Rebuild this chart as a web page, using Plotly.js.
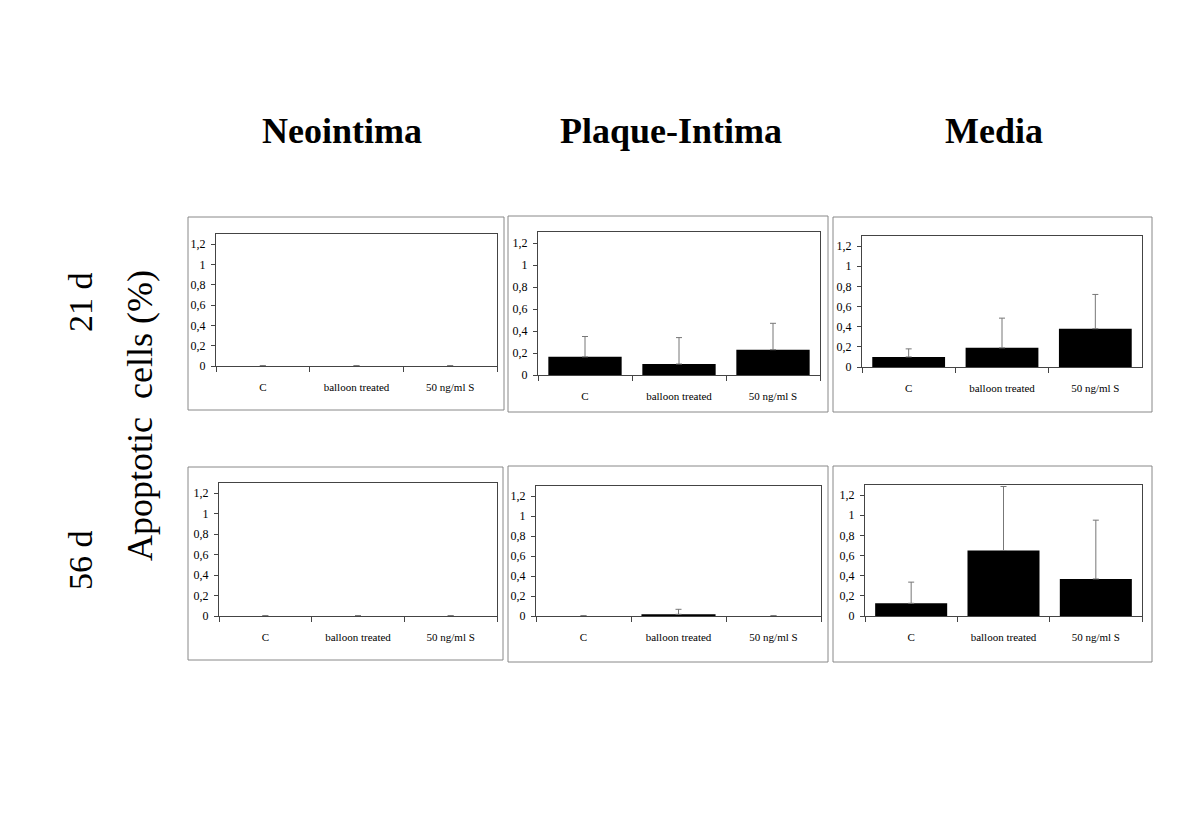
<!DOCTYPE html>
<html>
<head>
<meta charset="utf-8">
<script src="https://cdn.plot.ly/plotly-3.0.1.min.js"></script>
<style>html,body{margin:0;padding:0;background:#fff;}#chart{width:1200px;height:831px;}</style>
</head>
<body>
<div id="chart"></div>
<script>
// ---- data ----
const categories = ["C", "balloon treated", "50 ng/ml S"];
const yTickVals = [0, 0.2, 0.4, 0.6, 0.8, 1, 1.2];
const regionTitles = ["Neointima", "Plaque-Intima", "Media"];
const timeLabels = ["21 d", "56 d"];
const yLabel = "Apoptotic  cells (%)";

const neointima21 = [0, 0, 0];
const neointima21Err = [0.004, 0.004, 0.004];
const plaque21 = [0.165, 0.10, 0.23];
const plaque21Err = [0.185, 0.24, 0.24];
const media21 = [0.10, 0.19, 0.38];
const media21Err = [0.08, 0.295, 0.34];

const neointima56 = [0, 0, 0];
const neointima56Err = [0.004, 0.004, 0.004];
const plaque56 = [0, 0.017, 0];
const plaque56Err = [0.004, 0.05, 0.004];
const media56 = [0.126, 0.65, 0.368];
const media56Err = [0.21, 0.635, 0.583];

// ---- layout helpers ----
const W = 1200, H = 831;
const px = v => v / W;
const py = v => 1 - v / H;

const panels = [
  {vals: neointima21, err: neointima21Err, inner: [216, 497, 234, 366], outer: [188, 504, 217, 410]},
  {vals: plaque21, err: plaque21Err, inner: [538, 820, 232, 375], outer: [508, 828, 216, 412]},
  {vals: media21, err: media21Err, inner: [862, 1142, 236, 367], outer: [833, 1152, 217, 412]},
  {vals: neointima56, err: neointima56Err, inner: [219, 497, 483, 616], outer: [188, 503, 467, 660]},
  {vals: plaque56, err: plaque56Err, inner: [536, 821, 486, 616], outer: [508, 828, 466, 662]},
  {vals: media56, err: media56Err, inner: [865, 1142, 485, 616], outer: [833, 1152, 466, 662]}
];

const serif = "Liberation Serif, Times New Roman, serif";
const data = [];
const layout = {
  width: W, height: H,
  margin: {l: 0, r: 0, t: 0, b: 0},
  paper_bgcolor: "#fff", plot_bgcolor: "#fff",
  showlegend: false,
  separators: ", ",
  bargap: 0.22,
  font: {family: serif, color: "#000"},
  shapes: [], annotations: []
};

panels.forEach((p, i) => {
  const n = i + 1;
  const xa = n === 1 ? "x" : "x" + n;
  const ya = n === 1 ? "y" : "y" + n;
  data.push({
    type: "bar", x: categories, y: p.vals, xaxis: xa, yaxis: ya,
    marker: {color: "#000", line: {width: 0}},
    error_y: {type: "data", array: p.err, symmetric: false, arrayminus: [0, 0, 0],
              color: "#777", thickness: 1, width: 3},
    hoverinfo: "skip"
  });
  const [l, r, t, b] = p.inner;
  layout["xaxis" + (n === 1 ? "" : n)] = {
    domain: [px(l), px(r)], anchor: ya, type: "category",
    showline: true, linecolor: "#444", linewidth: 1, mirror: true,
    ticks: "outside", ticklen: 5, tickcolor: "#444", tickson: "boundaries",
    tickfont: {family: serif, size: 11, color: "#000"},
    ticklabelstandoff: 11, showgrid: false, zeroline: false, fixedrange: true
  };
  layout["yaxis" + (n === 1 ? "" : n)] = {
    domain: [py(b), py(t)], anchor: xa, range: [0, 1.3],
    tickvals: yTickVals, showline: true, linecolor: "#444", linewidth: 1, mirror: true,
    ticks: "outside", ticklen: 4, tickcolor: "#444",
    tickfont: {family: serif, size: 12, color: "#000"},
    ticklabelstandoff: 3, showgrid: false, zeroline: false, fixedrange: true
  };
  const [ol, or, ot, ob] = p.outer;
  layout.shapes.push({type: "rect", xref: "paper", yref: "paper",
    x0: px(ol), x1: px(or), y0: py(ob), y1: py(ot),
    line: {color: "#888", width: 1}, fillcolor: "rgba(0,0,0,0)", layer: "below"});
});

const titleX = [342, 671, 994];
regionTitles.forEach((t, i) => {
  layout.annotations.push({text: "<b>" + t + "</b>", xref: "paper", yref: "paper",
    x: px(titleX[i]), y: py(131), xanchor: "center", yanchor: "middle", showarrow: false,
    font: {family: serif, size: 36, color: "#000"}});
});
const timeY = [302, 560];
timeLabels.forEach((t, i) => {
  layout.annotations.push({text: t, xref: "paper", yref: "paper", textangle: -90,
    x: px(80), y: py(timeY[i]), xanchor: "center", yanchor: "middle", showarrow: false,
    font: {family: serif, size: 34, color: "#000"}});
});
layout.annotations.push({text: yLabel, xref: "paper", yref: "paper", textangle: -90,
  x: px(140), y: py(416), xanchor: "center", yanchor: "middle", showarrow: false,
  font: {family: serif, size: 36, color: "#000"}});

Plotly.newPlot("chart", data, layout, {displayModeBar: false, staticPlot: true});
</script>
</body>
</html>
